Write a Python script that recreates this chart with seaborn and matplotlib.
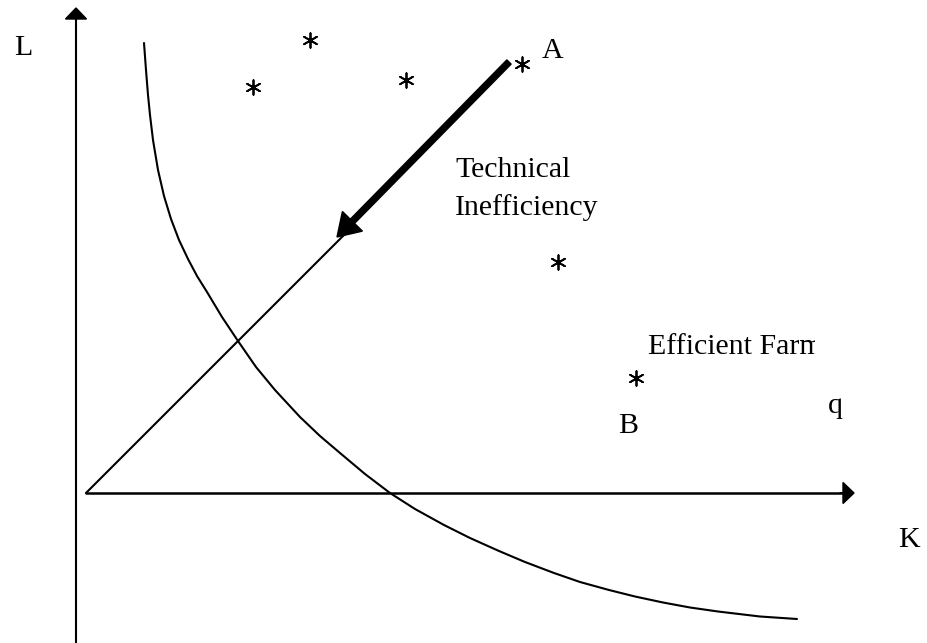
import numpy as np
import pandas as pd
import seaborn as sns
import matplotlib.pyplot as plt
from matplotlib.patches import Rectangle

# -----------------------------
# Data (diagram space: x = K to the right, y measured downward like the picture)
# -----------------------------
isoquant_k = [144, 146, 148, 150, 153, 158, 164, 171, 179, 188, 197, 207, 222, 238, 256, 275, 300, 320,
              340, 365, 390, 415, 444, 470, 499, 525, 554, 580, 609, 635, 663, 690, 718, 760, 797]
isoquant_l = [43, 70, 95, 115, 140, 170, 196, 219, 240, 259, 276, 292, 317, 341, 367, 390, 417, 436,
              453, 474, 493, 509, 525, 538, 551, 562, 573, 582, 590, 596.5, 602.5, 607.5, 611.5, 616.5, 619]

ray_k = [86, 345]
ray_l = [493, 234]

farm_k = [253, 310, 406, 522, 558, 636]
farm_l = [87, 40, 80, 64, 262, 378]

origin = (86, 493)
k_axis_end = 854
l_axis_top = 8

arrow_start = (509, 62)
arrow_tip = (337, 237)

labels = ["L", "A", "Technical", "Inefficiency", "Efficient Farm", "B", "q", "K"]
label_k = [14, 542, 455, 455, 648, 618, 828, 898]
label_l = [55, 58, 177, 215, 354, 433, 413, 547]

# -----------------------------
# Figure
# -----------------------------
sns.set_style("white")
plt.rcParams["font.family"] = ["Liberation Serif", "DejaVu Serif"]

fig = plt.figure(figsize=(9.27, 6.43), dpi=100)
ax = fig.add_axes([0, 0, 1, 1])
ax.set_xlim(0, 927)
ax.set_ylim(643, 0)
ax.axis("off")

# axes with arrow heads
ax.plot([76, 76], [643, 18], color="black", lw=1.5)
ax.arrow(76, 22, 0, l_axis_top - 22, width=0.5, head_width=21, head_length=11,
         length_includes_head=True, color="black")
ax.plot([origin[0], k_axis_end - 10], [origin[1], origin[1]], color="black", lw=1.8)
ax.arrow(k_axis_end - 14, origin[1], 14, 0, width=0.5, head_width=21, head_length=11,
         length_includes_head=True, color="black")

# isoquant and ray through origin
curve = pd.DataFrame({"k": isoquant_k, "l": isoquant_l})
sns.lineplot(data=curve, x="k", y="l", sort=False, estimator=None, color="black", lw=1.5, ax=ax)
sns.lineplot(x=ray_k, y=ray_l, sort=False, estimator=None, color="black", lw=1.5, ax=ax)

# technical inefficiency arrow
ax.arrow(arrow_start[0], arrow_start[1], arrow_tip[0] - arrow_start[0], arrow_tip[1] - arrow_start[1],
         width=6, head_width=28, head_length=22, length_includes_head=True, color="black")

# farms
sns.scatterplot(x=farm_k, y=farm_l, marker=(6, 2, 0), s=110, color="black", linewidth=1.3, ax=ax)

# texts
for txt, x, y in zip(labels, label_k, label_l):
    t = ax.text(x, y, txt, fontsize=21.5, ha="left", va="baseline", color="black")
    if txt == "Efficient Farm":
        # the label is cut off at the right in the original
        clip = Rectangle((0, 0), 815, 643, transform=ax.transData, visible=False)
        ax.add_patch(clip)
        t.set_clip_path(clip)
        t.set_clip_on(True)

ax.set_xlabel("")
ax.set_ylabel("")
fig.savefig("out.png", dpi=100)
